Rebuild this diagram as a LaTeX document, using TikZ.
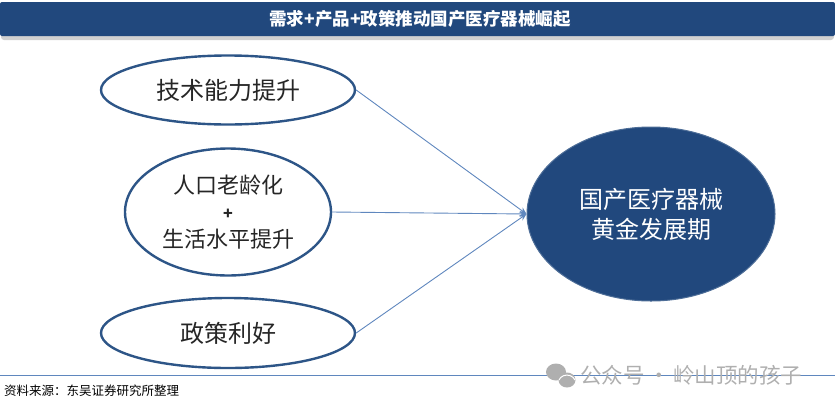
\documentclass[tikz,border=0pt]{standalone}
\usepackage{fontspec}
\setmainfont{Noto Sans CJK SC}
\usetikzlibrary{shapes.geometric,arrows.meta}
\definecolor{barblue}{RGB}{33,72,125}
\definecolor{ringblue}{RGB}{45,85,135}
\definecolor{lineblue}{RGB}{95,135,190}
\definecolor{wmgray}{RGB}{175,175,175}
\tikzset{
  x=1pt,y=-1pt,
  factor/.style={ellipse,draw=ringblue,line width=2.4pt,fill=white,inner sep=0pt,align=center,text=black!85},
  goal/.style={ellipse,fill=barblue,draw=barblue!80,line width=1pt,inner sep=0pt,align=center,text=white},
  link/.style={draw=lineblue,line width=0.9pt,-{Stealth[length=7pt,width=6pt]}}
}
\begin{document}
\begin{tikzpicture}
\useasboundingbox (0,0) rectangle (835,408);
\fill[black!18,rounded corners=3pt] (1,6) rectangle (834,40);
\fill[barblue,rounded corners=2pt] (0,2) rectangle (835,36);
\node[text=white,font=\fontsize{17.5}{19}\selectfont\bfseries] (title) at (420,19) {需求+产品+政策推动国产医疗器械崛起};
\node[factor,minimum width=254pt,minimum height=69pt,font=\fontsize{24}{26}\selectfont] (f1) at (228,90) {技术能力提升};
\node[factor,minimum width=206pt,minimum height=127pt,font=\fontsize{22}{30}\selectfont] (f2) at (228,212) {人口老龄化\\[-4pt]\fontsize{16}{18}\selectfont\bfseries +\\[-2pt]生活水平提升};
\node[factor,minimum width=254pt,minimum height=70pt,font=\fontsize{24}{26}\selectfont] (f3) at (228,333) {政策利好};
\node[goal,minimum width=248pt,minimum height=174pt,font=\fontsize{24}{30}\selectfont] (g) at (651,214) {国产医疗器械\\黄金发展期};
\coordinate (tip) at (g.west);
\draw[link] (f1.east) -- (tip);
\draw[link] (f2.east) -- (tip);
\draw[link] (f3.east) -- (tip);
\draw[lineblue,line width=1pt] (0,375) -- (835,375);
\node[anchor=west,inner sep=0pt,font=\fontsize{12.5}{14}\selectfont,text=black] (src) at (4,391) {资料来源：东吴证券研究所整理};
\fill[wmgray] (556,372) ellipse (10 and 8.5);
\fill[wmgray] (567,380) ellipse (8.5 and 7.5);
\draw[white,line width=1pt] (559,380) arc (200:340:8.5 and 7.5);
\node[anchor=west,inner sep=0pt,font=\fontsize{21.5}{23}\selectfont,text=wmgray] (wm) at (580,375) {公众号\,·\,岭山顶的孩子};
\end{tikzpicture}
\end{document}
